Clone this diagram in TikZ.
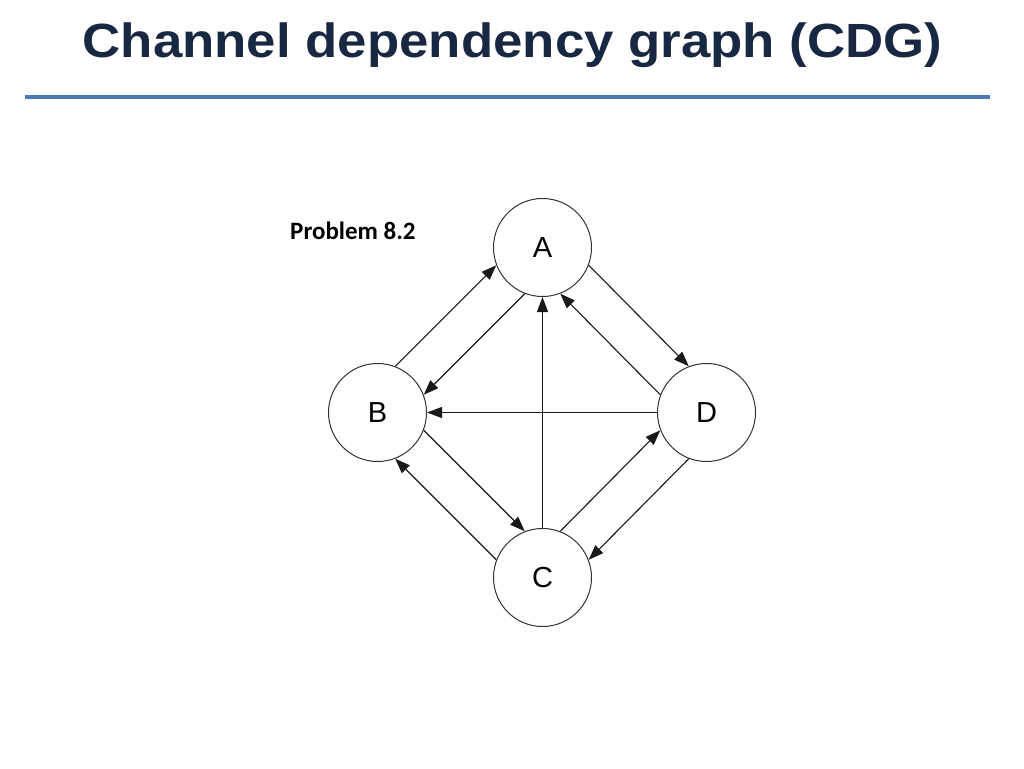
\documentclass[tikz,border=0pt]{standalone}
\usepackage{fontspec}
\setmainfont{Liberation Sans}
\newfontfamily\carlito{Carlito}
\usetikzlibrary{arrows.meta}
\definecolor{titlecol}{RGB}{24,40,66}
\definecolor{rulecol}{RGB}{74,122,184}
\definecolor{circcol}{RGB}{50,50,50}
\tikzset{
  vert/.style={circle,draw=circcol,line width=1pt,minimum size=98pt,inner sep=0pt,
    font=\fontsize{29}{32}\selectfont},
  edge/.style={line width=1.1pt,draw=black!90,-{Triangle[length=15pt,width=11pt]}},
}
\begin{document}
\begin{tikzpicture}[x=1pt,y=-1pt]
\useasboundingbox (0,0) rectangle (1024,768);
\node[anchor=base,text=titlecol,xscale=1.1,font=\fontsize{48}{52}\selectfont\bfseries] (title) at (512.5,58) {Channel dependency graph (CDG)};
\draw[rulecol,line width=4pt] (25,97) -- (990,97);
\node[anchor=base west,inner sep=0pt,font=\carlito\bfseries\fontsize{25}{28}\selectfont] (prob) at (290,239) {Problem 8.2};
\node[vert] (A) at (542.5,247.5) {A};
\node[vert] (B) at (377.5,412.5) {B};
\node[vert] (D) at (706.5,412.5) {D};
\node[vert] (C) at (542.5,577.5) {C};
\def\al{24}
% A-B pair
\draw[edge] (B.{45+\al}) -- (A.{225-\al});
\draw[edge] (A.{225+\al}) -- (B.{45-\al});
% A-D pair
\draw[edge] (A.{315+\al}) -- (D.{135-\al});
\draw[edge] (D.{135+\al}) -- (A.{315-\al});
% B-C pair
\draw[edge] (B.{315+\al}) -- (C.{135-\al});
\draw[edge] (C.{135+\al}) -- (B.{315-\al});
% C-D pair
\draw[edge] (C.{45+\al}) -- (D.{225-\al});
\draw[edge] (D.{225+\al}) -- (C.{45-\al});
% straight
\draw[edge] (C.north) -- (A.south);
\draw[edge] (D.west) -- (B.east);
\end{tikzpicture}
\end{document}
